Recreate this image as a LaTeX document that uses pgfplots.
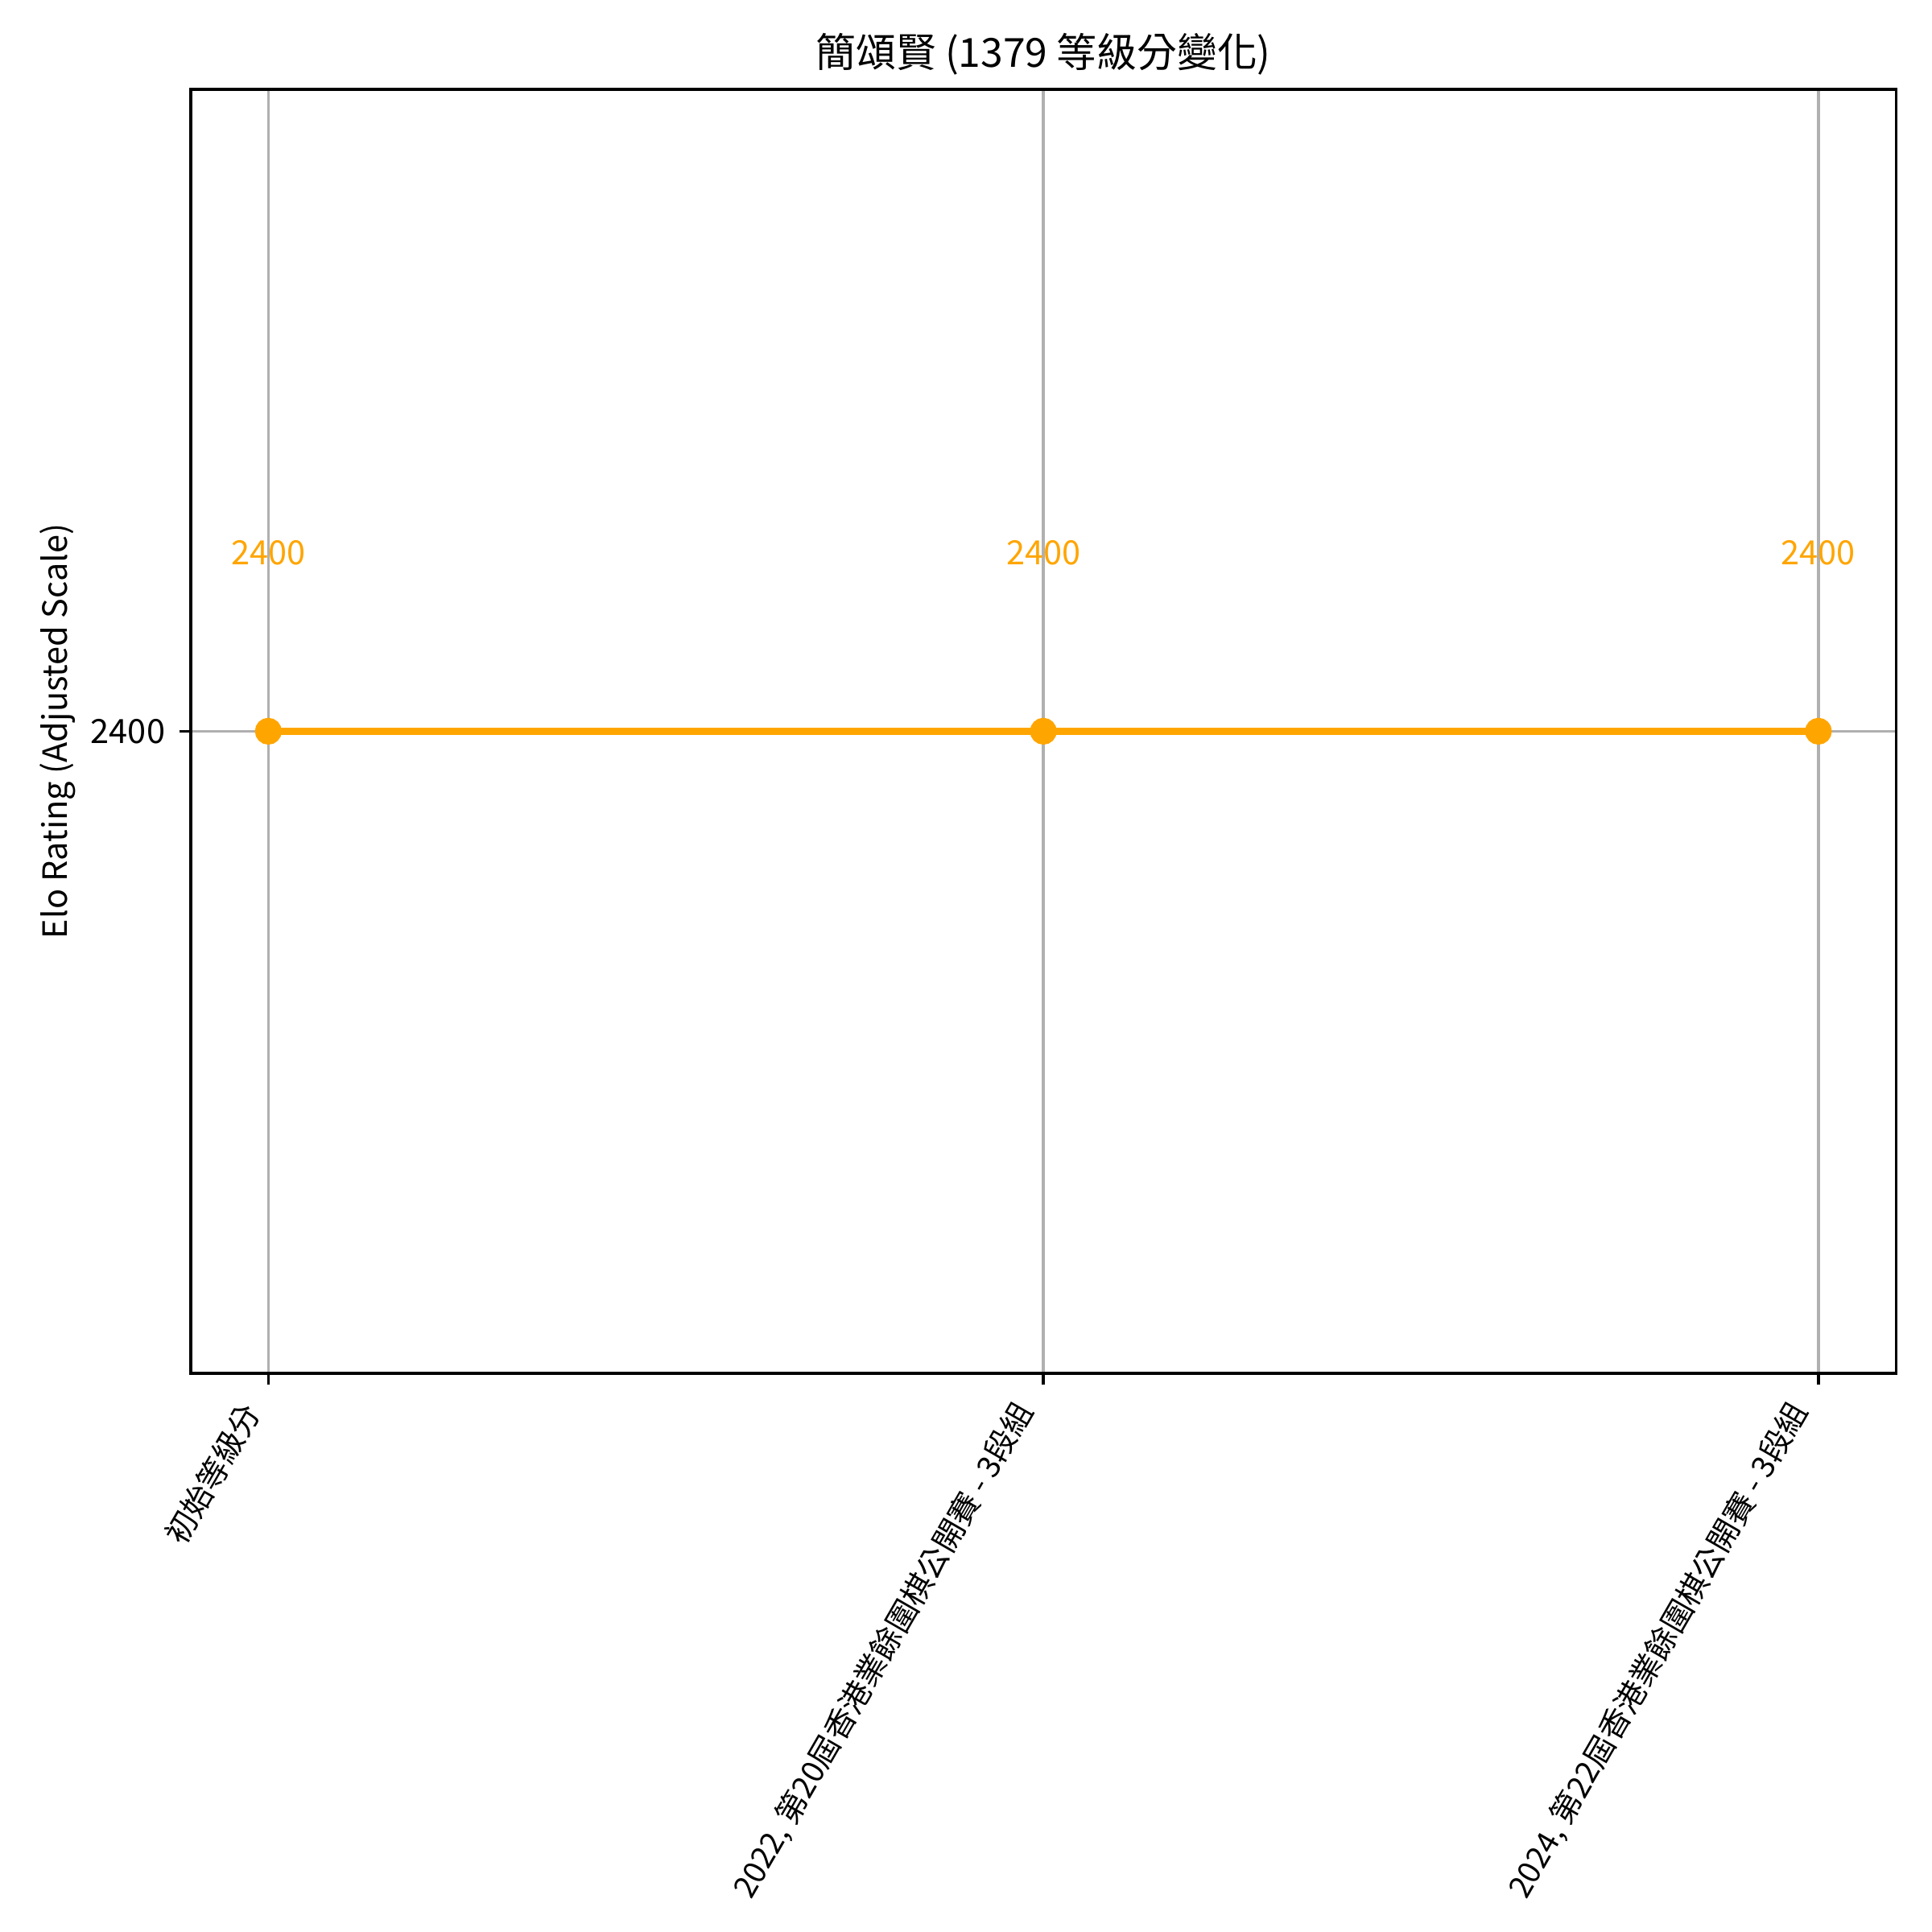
\documentclass[border=0pt]{standalone}
\usepackage{fontspec}
\setmainfont{Noto Sans CJK TC}
\usepackage{pgfplots}
\pgfplotsset{compat=1.18}
\definecolor{mplorange}{HTML}{FFA500}
\definecolor{gridgray}{HTML}{B0B0B0}
\begin{document}
\begin{tikzpicture}
\begin{axis}[name=ax, scale only axis, width=510.2pt, height=384.2pt,
  xmin=-0.1, xmax=2.1, ymin=2300, ymax=2500,
  xtick={0,1,2},
  xticklabels={初始等級分, {2022, 第20屆香港業餘圍棋公開賽 - 3段組}, {2024, 第22屆香港業餘圍棋公開賽 - 3段組}},
  ytick={2400}, yticklabels={2400},
  tick align=outside, tick pos=left, major tick length=3.5pt,
  grid=major, grid style={gridgray, line width=0.8pt},
  axis line style={line width=0.8pt},
  every tick/.style={black, line width=0.8pt},
  tick label style={font=\fontsize{10}{12}\selectfont},
  label style={font=\fontsize{10}{12}\selectfont},
  title={簡頌賢 (1379 等級分變化)},
  title style={font=\fontsize{12}{14}\selectfont, at={(axis description cs:0.5,1)}, anchor=base, yshift=0.5pt},
  ylabel={Elo Rating (Adjusted Scale)},
  ylabel style={at={(axis description cs:-0.0779,0.5)}, anchor=center},
  xticklabel style={xshift=-1pt, yshift=-8.6pt, rotate=60, anchor=south east, inner sep=0pt, font=\fontsize{9.3}{11}\selectfont},
  yticklabel style={inner sep=0pt, xshift=-4pt},
  /pgf/number format/assume math mode=true,
]
\addplot[mplorange, line width=2pt, mark=*, mark size=3pt,
  mark options={solid, fill=mplorange, draw=mplorange},
  point meta=explicit symbolic,
  nodes near coords,
  nodes near coords style={anchor=base, yshift=49.9pt, inner sep=0pt, text=mplorange, font=\fontsize{10}{12}\selectfont}]
  coordinates {(0,2400) [2400] (1,2400) [2400] (2,2400) [2400]};
\end{axis}
\pgfresetboundingbox
\path[use as bounding box] ([xshift=-57.1pt,yshift=-167.2pt]ax.south west) rectangle ([xshift=10.8pt,yshift=26.7pt]ax.north east);
\end{tikzpicture}
\end{document}
